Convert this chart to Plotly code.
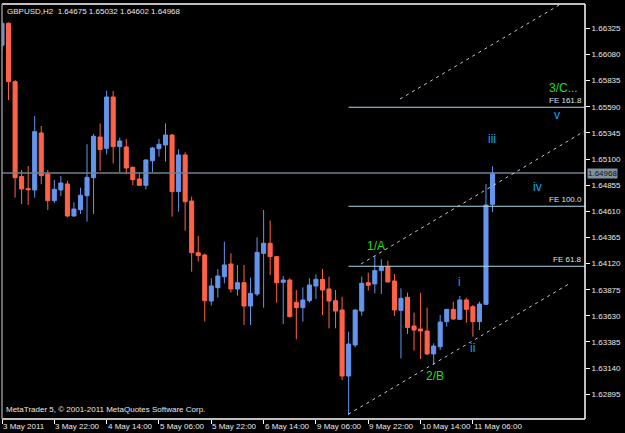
import plotly.graph_objects as go

# ---------------- data ----------------
bars = list(range(76))
opens = [1.66166, 1.66372, 1.65825, 1.64935, 1.64822, 1.64810, 1.65344, 1.64960, 1.64710, 1.64810,
         1.64866, 1.64566, 1.64625, 1.64756, 1.64925, 1.65306, 1.65200, 1.65681, 1.65216, 1.65213,
         1.65022, 1.64913, 1.64853, 1.65084, 1.65197, 1.65231, 1.65325, 1.64794, 1.65138, 1.64706,
         1.64222, 1.64200, 1.63769, 1.63894, 1.63997, 1.64116, 1.63882, 1.63941, 1.63722, 1.63835,
         1.64216, 1.64310, 1.64185, 1.63944, 1.63966, 1.63757, 1.63707, 1.63772, 1.63910, 1.63972,
         1.63882, 1.63772, 1.63685, 1.63066, 1.63357, 1.63675, 1.63941, 1.63929, 1.64054, 1.64091,
         1.63957, 1.63682, 1.63804, 1.63535, 1.63507, 1.63488, 1.63273, 1.63341, 1.63576, 1.63691,
         1.63597, 1.63779, 1.63716, 1.63576, 1.63738, 1.64675]
highs = [1.66400, 1.66380, 1.65840, 1.64997, 1.65034, 1.65503, 1.65409, 1.64997, 1.64903, 1.64941,
         1.64897, 1.64694, 1.64831, 1.65238, 1.65334, 1.65434, 1.65741, 1.65737, 1.65300, 1.65288,
         1.65030, 1.64972, 1.65095, 1.65213, 1.65288, 1.65434, 1.65334, 1.65191, 1.65163, 1.64747,
         1.64379, 1.64216, 1.63982, 1.64066, 1.64325, 1.64216, 1.64107, 1.64107, 1.63988, 1.64366,
         1.64622, 1.64522, 1.64190, 1.64004, 1.63982, 1.63872, 1.63897, 1.63982, 1.64019, 1.64069,
         1.63997, 1.63872, 1.63810, 1.63482, 1.63690, 1.63997, 1.64035, 1.64191, 1.64160, 1.64147,
         1.64022, 1.63888, 1.63847, 1.63660, 1.63847, 1.63707, 1.63372, 1.63638, 1.63691, 1.63763,
         1.63816, 1.63800, 1.63732, 1.63763, 1.64866, 1.65032]
lows = [1.66120, 1.65653, 1.64738, 1.64678, 1.64669, 1.64738, 1.64863, 1.64622, 1.64685, 1.64753,
        1.64553, 1.64560, 1.64585, 1.64513, 1.64585, 1.64988, 1.65144, 1.65059, 1.64975, 1.64956,
        1.64856, 1.64850, 1.64816, 1.64975, 1.65122, 1.65075, 1.64560, 1.64607, 1.64428, 1.64044,
        1.64138, 1.63576, 1.63726, 1.63801, 1.63935, 1.63847, 1.63819, 1.63544, 1.63544, 1.63816,
        1.63707, 1.64013, 1.63754, 1.63554, 1.63613, 1.63410, 1.63576, 1.63754, 1.63788, 1.63638,
        1.63513, 1.63513, 1.63029, 1.62701, 1.63335, 1.63632, 1.63866, 1.63841, 1.63835, 1.63947,
        1.63629, 1.63232, 1.63460, 1.63304, 1.63226, 1.63260, 1.63169, 1.63310, 1.63529, 1.63591,
        1.63591, 1.63566, 1.63435, 1.63497, 1.63738, 1.64602]
closes = [1.66372, 1.65825, 1.64925, 1.64819, 1.64813, 1.65356, 1.64944, 1.64710, 1.64816, 1.64875,
          1.64566, 1.64631, 1.64760, 1.64928, 1.65313, 1.65188, 1.65681, 1.65216, 1.65269, 1.65016,
          1.64906, 1.64853, 1.65091, 1.65203, 1.65238, 1.65325, 1.64794, 1.65138, 1.64700, 1.64222,
          1.64194, 1.63772, 1.63910, 1.64004, 1.64107, 1.63882, 1.63941, 1.63722, 1.63841, 1.64225,
          1.64310, 1.64185, 1.63941, 1.63966, 1.63623, 1.63707, 1.63779, 1.63919, 1.63972, 1.63872,
          1.63769, 1.63675, 1.63066, 1.63366, 1.63685, 1.63935, 1.63916, 1.64054, 1.64091, 1.63947,
          1.63685, 1.63794, 1.63522, 1.63497, 1.63488, 1.63273, 1.63347, 1.63572, 1.63691, 1.63601,
          1.63779, 1.63691, 1.63576, 1.63741, 1.64669, 1.64968]

x_tick_bars = [0, 8, 16, 24, 32, 40, 48, 56, 64, 72]
x_tick_labels = ["3 May 2011", "3 May 22:00", "4 May 14:00", "5 May 06:00", "5 May 22:00",
                 "6 May 14:00", "9 May 06:00", "9 May 22:00", "10 May 14:00", "11 May 06:00"]
y_tick_values = [1.62895, 1.63140, 1.63385, 1.63630, 1.63875, 1.64120, 1.64365, 1.64610,
                 1.64855, 1.65100, 1.65345, 1.65590, 1.65835, 1.66080, 1.66325]
y_tick_labels = ["%.5f" % v for v in y_tick_values]

symbol_title = "GBPUSD,H2  1.64675 1.65032 1.64602 1.64968"
copyright_text = "MetaTrader 5, © 2001-2011 MetaQuotes Software Corp."
bid_price = 1.64968

fe_levels = [1.64095, 1.64657, 1.65585]
fe_labels = ["FE 61.8", "FE 100.0", "FE 161.8"]
fe_start_bar = 53

# channel lines: (bar0, price0, bar1, price1)
channel_lower = [52.95, 1.62708, 86.85, 1.63935]
channel_middle = [54.9, 1.64116, 89.1, 1.65362]
channel_upper = [60.86, 1.65662, 85.2, 1.66543]

wave_texts = ["1/A", "2/B", "3/C...", "i", "ii", "iii", "iv", "v"]
wave_bars = [57.2, 66.2, 85.9, 69.9, 71.9, 74.9, 81.9, 84.9]
wave_prices = [1.64285, 1.63066, 1.65766, 1.63947, 1.63329, 1.65283, 1.64833, 1.65512]
wave_colors = ["#22DD22", "#22DD22", "#22DD22", "#1AA3E8", "#1AA3E8", "#1AA3E8", "#1AA3E8", "#1AA3E8"]

# ---------------- figure ----------------
UP = "#6495ED"
DOWN = "#FF6347"
FONT = "Liberation Sans, Arial, sans-serif"

x_range = [0, 89.14]
y_range = [1.626633, 1.665527]

fig = go.Figure()
fig.add_trace(go.Candlestick(
    x=bars, open=opens, high=highs, low=lows, close=closes,
    increasing=dict(line=dict(color=UP, width=1), fillcolor=UP),
    decreasing=dict(line=dict(color=DOWN, width=1), fillcolor=DOWN),
    whiskerwidth=0, hoverinfo="skip", showlegend=False,
))

shapes = []
# bid line
shapes.append(dict(type="line", xref="paper", yref="y", x0=0, x1=1, y0=bid_price, y1=bid_price,
                   line=dict(color="#708090", width=1.5), layer="above"))
# FE lines
for lv in fe_levels:
    shapes.append(dict(type="line", xref="x", yref="y", x0=fe_start_bar, x1=x_range[1], y0=lv, y1=lv,
                       line=dict(color="#ADD8E6", width=1.2), layer="above"))
# channel lines
for ch in (channel_lower, channel_middle, channel_upper):
    shapes.append(dict(type="line", xref="x", yref="y", x0=ch[0], y0=ch[1], x1=ch[2], y1=ch[3],
                       line=dict(color="#C8C8C8", width=1, dash="3px,4px"), layer="above"))
# frame
shapes.append(dict(type="line", xref="paper", yref="paper", x0=0, x1=1, y0=1, y1=1,
                   line=dict(color="#FFFFFF", width=1.5)))
shapes.append(dict(type="line", xref="paper", yref="paper", x0=0, x1=1, y0=0, y1=0,
                   line=dict(color="#FFFFFF", width=1.5)))
shapes.append(dict(type="line", xref="paper", yref="paper", x0=1, x1=1, y0=0, y1=1,
                   line=dict(color="#FFFFFF", width=1.5)))
shapes.append(dict(type="line", xref="paper", yref="paper", x0=0, x1=0, y0=0, y1=1,
                   line=dict(color="#909090", width=1.5)))

annotations = []
annotations.append(dict(text=symbol_title, xref="paper", yref="paper", x=0, y=1, xanchor="left",
                        yanchor="top", xshift=3, yshift=-1, showarrow=False,
                        font=dict(family=FONT, size=8, color="#E8E8E8")))
annotations.append(dict(text=copyright_text, xref="paper", yref="paper", x=0, y=0, xanchor="left",
                        yanchor="bottom", xshift=2, yshift=3, showarrow=False,
                        font=dict(family=FONT, size=8, color="#E8E8E8")))
for b, lab in zip(x_tick_bars, x_tick_labels):
    annotations.append(dict(text=lab, xref="x", yref="paper", x=b, y=0, xanchor="left",
                            yanchor="top", xshift=-1, yshift=-1, showarrow=False,
                            font=dict(family=FONT, size=8, color="#E8E8E8")))
for lv, lab in zip(fe_levels, fe_labels):
    annotations.append(dict(text=lab, xref="paper", yref="y", x=1, y=lv, xanchor="right",
                            yanchor="bottom", xshift=-1, yshift=0, showarrow=False,
                            font=dict(family=FONT, size=8, color="#D8E8F0")))
for t, b, p, c in zip(wave_texts, wave_bars, wave_prices, wave_colors):
    annotations.append(dict(text=t, xref="x", yref="y", x=b, y=p, xanchor="center",
                            yanchor="middle", showarrow=False,
                            font=dict(family=FONT, size=12, color=c)))
annotations.append(dict(text="%.5f" % bid_price, xref="paper", yref="y", x=1, y=bid_price,
                        xanchor="left", yanchor="middle", xshift=2, showarrow=False,
                        bgcolor="#8090A0", borderpad=0,
                        font=dict(family=FONT, size=8, color="#101010")))

fig.update_layout(
    width=625, height=433,
    margin=dict(l=2, r=40, t=4, b=14),
    paper_bgcolor="#000000", plot_bgcolor="#000000",
    boxgap=0.1, boxgroupgap=0.31,
    shapes=shapes, annotations=annotations,
    showlegend=False,
    xaxis=dict(range=x_range, rangeslider=dict(visible=False), showgrid=False, zeroline=False,
               tickmode="array", tickvals=x_tick_bars, showticklabels=False,
               ticks="outside", ticklen=4, tickcolor="#FFFFFF", tickwidth=1, fixedrange=True),
    yaxis=dict(range=y_range, side="right", showgrid=False, zeroline=False,
               tickmode="array", tickvals=y_tick_values, ticktext=y_tick_labels,
               ticks="outside", ticklen=4, tickcolor="#FFFFFF", tickwidth=1,
               tickfont=dict(family=FONT, size=8, color="#E8E8E8"), fixedrange=True),
)

fig.write_html("out.html")
